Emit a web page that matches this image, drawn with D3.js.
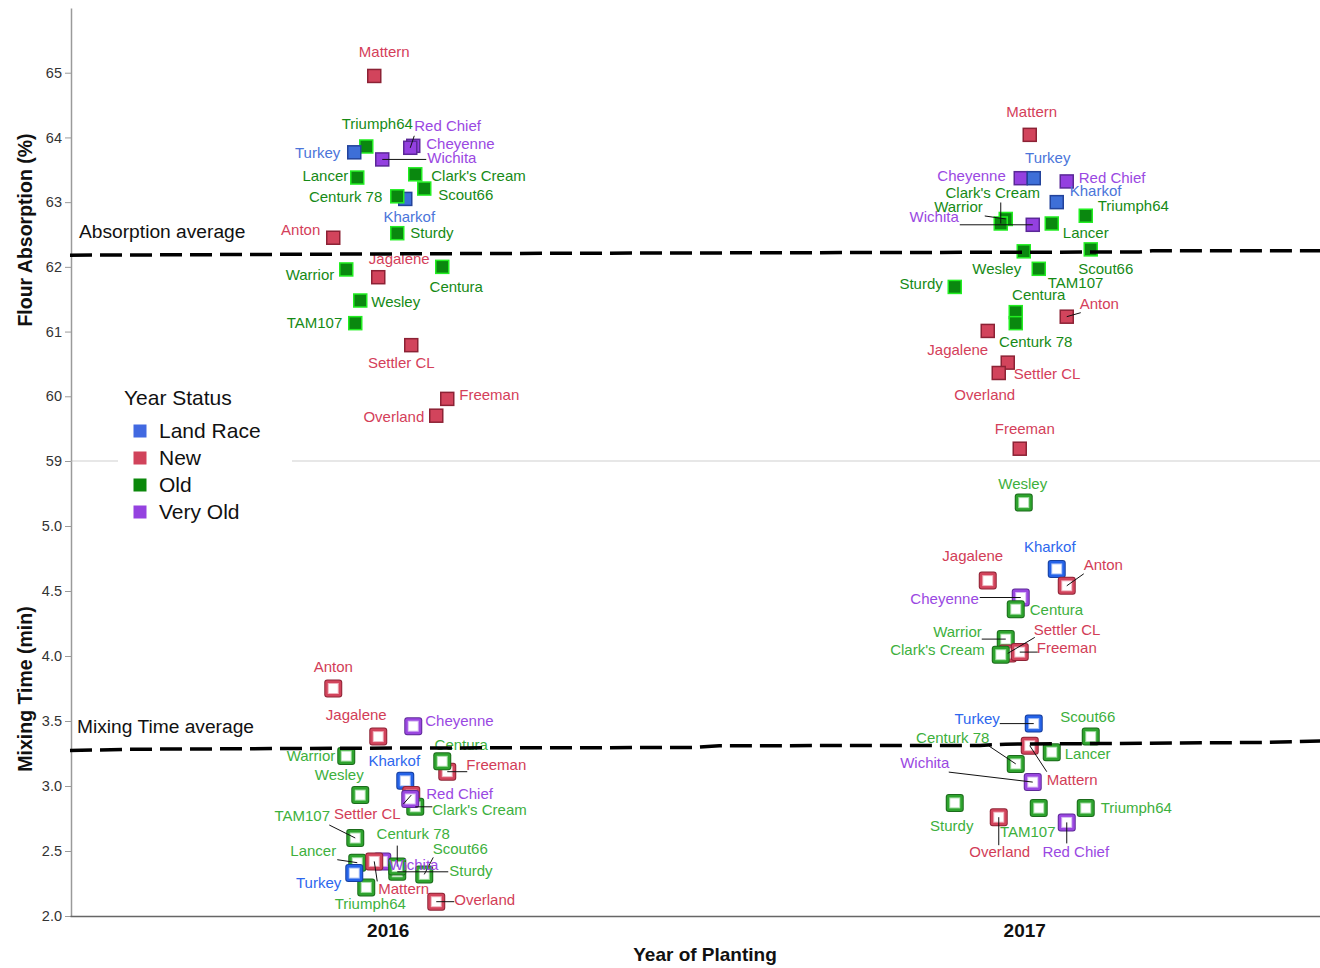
<!DOCTYPE html>
<html>
<head>
<meta charset="utf-8">
<script src="https://cdn.jsdelivr.net/npm/d3@7"></script>
<style>
  body { margin: 0; background: #fff; }
  svg { display: block; font-family: "Liberation Sans", Arial, Helvetica, sans-serif; }
</style>
</head>
<body>
<svg id="chart" width="1320" height="968"></svg>
<script>
// ---- data -------------------------------------------------------------
const years = ["2016", "2017"];
const statuses = ["Land Race", "New", "Old", "Very Old"];

// varieties, listed in drawing order
const varieties = ["Kharkof", "Cheyenne", "Wichita", "Warrior", "Settler CL", "Freeman", "Triumph64",
  "Lancer", "Jagalene", "Sturdy", "Anton", "Centura", "Centurk 78", "Clark's Cream", "Red Chief",
  "Mattern", "Overland", "Scout66", "TAM107", "Wesley", "Turkey"];
const yearStatus = ["Land Race", "Very Old", "Very Old", "Old", "New", "New", "Old",
  "Old", "New", "Old", "New", "Old", "Old", "Old", "Very Old",
  "New", "New", "Old", "Old", "Old", "Land Race"];

// flour absorption (%)
const absorption2016 = [63.05, 63.87, 63.66, 61.96, 60.79, 59.96, 63.86,
  63.38, 61.84, 62.52, 62.45, 62.00, 63.09, 63.43, 63.84,
  64.95, 59.70, 63.21, 61.13, 61.48, 63.77];
const absorption2017 = [63.00, 63.37, 62.65, 62.74, 60.52, 59.19, 62.79,
  62.67, 61.01, 61.69, 61.23, 61.30, 61.13, 62.67, 63.32,
  64.04, 60.36, 62.27, 61.97, 62.24, 63.37];

// mixing time (min)
const mixing2016 = [3.04, 3.46, 2.42, 3.23, 2.93, 3.11, 2.22,
  2.41, 3.38, 2.34, 3.75, 3.19, 2.38, 2.84, 2.90,
  2.42, 2.11, 2.32, 2.60, 2.93, 2.33];
const mixing2017 = [4.67, 4.45, 3.03, 4.13, 4.02, 4.03, 2.83,
  3.26, 4.58, 2.87, 4.54, 4.36, 3.17, 4.01, 2.72,
  3.31, 2.76, 3.38, 2.83, 5.18, 3.48];

// horizontal jitter of each variety inside its year (-1 .. 1)
const jitter2016 = [0.17, 0.25, -0.06, -0.42, 0.23, 0.59, -0.22,
  -0.31, -0.10, 0.09, -0.55, 0.54, 0.09, 0.27, 0.22,
  -0.14, 0.48, 0.36, -0.33, -0.28, -0.34];
const jitter2017 = [0.32, -0.04, 0.08, -0.19, -0.17, -0.05, 0.61,
  0.27, -0.37, -0.70, 0.42, -0.09, -0.09, -0.24, 0.42,
  0.05, -0.26, 0.66, 0.14, -0.01, 0.09];

const absorptionTicks = [59, 60, 61, 62, 63, 64, 65];
const mixingTicks = [2.0, 2.5, 3.0, 3.5, 4.0, 4.5, 5.0];

// running averages: [year position, value]
const absorptionAverage = [[2015.5, 62.18], [2016.25, 62.21], [2017.18, 62.23], [2017.2, 62.25], [2017.5, 62.25]];
const mixingAverage = [[2015.5, 3.273], [2015.6, 3.283], [2016.08, 3.293], [2016.48, 3.296], [2016.52, 3.31],
  [2016.93, 3.312], [2016.97, 3.322], [2017.38, 3.335], [2017.5, 3.35]];

// ---- label placement: [anchor, dx, dy, leaderX, leaderY] ----------------
const labelLayout = {
  A2016: {
    "Anton": ["e", -13, -8], "Centura": ["m", 14, 20], "Centurk 78": ["e", -15, 0],
    "Cheyenne": ["s", 13, -2], "Clark's Cream": ["s", 16, 1], "Freeman": ["s", 12, -4],
    "Jagalene": ["m", 21, -18], "Kharkof": ["m", 4, 18], "Lancer": ["e", -9, -2],
    "Mattern": ["m", 10, -24], "Overland": ["e", -12, 1], "Red Chief": ["s", 4, -22, 4, -12],
    "Scout66": ["s", 14, 6], "Settler CL": ["m", -10, 18], "Sturdy": ["s", 13, 0],
    "TAM107": ["e", -13, 0], "Triumph64": ["m", 11, -23], "Turkey": ["e", -14, 0],
    "Warrior": ["e", -12, 5], "Wesley": ["s", 11, 1], "Wichita": ["s", 45, -2, 44, 0]
  },
  A2017: {
    "Anton": ["s", 13, -13, 14, -4], "Centura": ["m", 23, -17], "Centurk 78": ["m", 20, 19],
    "Cheyenne": ["e", -15, -2], "Clark's Cream": ["m", -8, -31, 0, -21], "Freeman": ["m", 5, -20],
    "Jagalene": ["m", -30, 19], "Kharkof": ["s", 13, -11], "Lancer": ["m", 34, 9],
    "Mattern": ["m", 2, -23], "Overland": ["m", -14, 22], "Red Chief": ["s", 12, -4],
    "Scout66": ["m", 15, 19], "Settler CL": ["s", 6, 11], "Sturdy": ["e", -12, -3],
    "TAM107": ["s", 9, 14], "Triumph64": ["s", 12, -10], "Turkey": ["m", 14, -20],
    "Warrior": ["e", -23, -12, -21, -3], "Wesley": ["m", -27, 17], "Wichita": ["e", -74, -8, -73, 0]
  },
  M2016: {
    "Anton": ["m", 0, -22], "Centura": ["m", 19, -17], "Centurk 78": ["m", 16, -33, 0, -21],
    "Cheyenne": ["s", 12, -5], "Clark's Cream": ["s", 17, 3, 17, 0], "Freeman": ["s", 19, -7, 20, 0],
    "Jagalene": ["m", -22, -22], "Kharkof": ["m", -11, -20], "Lancer": ["m", -44, -12, -20, -3],
    "Mattern": ["s", 4, 27, 3, 20], "Overland": ["s", 18, -2, 18, 0], "Red Chief": ["s", 16, -5],
    "Scout66": ["m", 36, -26, 9, -17], "Settler CL": ["m", -44, 19, -8, 9], "Sturdy": ["s", 52, -1, 51, 0],
    "TAM107": ["m", -53, -22, -26, -13], "Triumph64": ["m", 4, 16], "Turkey": ["e", -13, 10],
    "Warrior": ["e", -11, 0], "Wesley": ["m", -21, -20], "Wichita": ["s", 7, 3]
  },
  M2017: {
    "Anton": ["s", 17, -21, 17, -12], "Centura": ["s", 14, 1], "Centurk 78": ["m", -63, -26, -27, -18],
    "Cheyenne": ["e", -42, 1, -41, 0], "Clark's Cream": ["e", -16, -5], "Freeman": ["s", 17, -4, 18, 0],
    "Jagalene": ["m", -15, -25], "Kharkof": ["m", -7, -22], "Lancer": ["s", 13, 2],
    "Mattern": ["s", 17, 34, 17, 26], "Overland": ["m", 1, 35, 0, 28], "Red Chief": ["m", 9, 29, 0, 21],
    "Scout66": ["m", -3, -20], "Settler CL": ["s", 26, -24, 27, -16], "Sturdy": ["m", -3, 23],
    "TAM107": ["m", -11, 24], "Triumph64": ["s", 15, 0], "Turkey": ["e", -34, -5, -34, 0],
    "Warrior": ["e", -24, -7, -24, 0], "Wesley": ["m", -1, -19], "Wichita": ["m", -108, -19, -84, -10]
  }
};

// ---- colours ---------------------------------------------------------------
const legendColor = d3.scaleOrdinal().domain(statuses).range(["#4169e1", "#d1435b", "#0b880b", "#9542e0"]);
const topFill = d3.scaleOrdinal().domain(statuses).range(["#3e6fd8", "#d2445c", "#0a880f", "#9440e0"]);
const topStroke = d3.scaleOrdinal().domain(statuses).range(["#23439b", "#8c2235", "#22ee22", "#5b2898"]);
const topText = d3.scaleOrdinal().domain(statuses).range(["#4b75da", "#d4405a", "#168a16", "#9a48e2"]);
const ringMain = d3.scaleOrdinal().domain(statuses).range(["#2563e8", "#d2445c", "#2ea32e", "#9a47e0"]);
const ringDark = d3.scaleOrdinal().domain(statuses).range(["#173f9e", "#8e2436", "#1b6b1b", "#5f2a99"]);
const ringLight = d3.scaleOrdinal().domain(statuses).range(["#a9c1f7", "#efb0bb", "#a6dfa6", "#d6b8f3"]);
const bottomText = d3.scaleOrdinal().domain(statuses).range(["#2d67ee", "#d23d57", "#3db03d", "#9a48e2"]);

// ---- scales ----------------------------------------------------------------
const W = 1320, H = 968;
const x = d3.scaleBand().domain(years).range([70, 1343]).padding(0);
const jitter = d3.scaleLinear().domain([-1, 1]).range([-100, 100]);
const xCenter = yr => x(yr) + x.bandwidth() / 2;
const xYear = d3.scaleLinear().domain([2016, 2017]).range([xCenter("2016"), xCenter("2017")]);
const yA = d3.scaleLinear().domain([59, 66]).range([461, 8]);
const yM = d3.scaleLinear().domain([2, 5.5]).range([916, 461]);

const svg = d3.select("#chart");
svg.append("defs").append("clipPath").attr("id", "frame")
  .append("rect").attr("x", 0).attr("y", 0).attr("width", W).attr("height", H);
const root = svg.append("g").attr("clip-path", "url(#frame)");

// divider between the two panels
root.append("line")
  .attr("x1", 71).attr("x2", W).attr("y1", yA(59)).attr("y2", yA(59))
  .attr("stroke", "#cfcfcf").attr("stroke-width", 1);

// ---- axes --------------------------------------------------------------------
function styleAxis(g) {
  g.select(".domain").attr("stroke", "#9a9a9a").attr("stroke-width", 1.5);
  g.selectAll(".tick line").attr("stroke", "#9a9a9a");
  g.selectAll(".tick text").attr("fill", "#333").attr("font-size", 14.5)
    .attr("font-family", "'Liberation Sans', Arial, sans-serif");
}
root.append("g").attr("transform", "translate(71,0)")
  .call(d3.axisLeft(yA).tickValues(absorptionTicks).tickFormat(d3.format("d")).tickSize(6).tickSizeOuter(0).tickPadding(3))
  .call(styleAxis);
root.append("g").attr("transform", "translate(71,0)")
  .call(d3.axisLeft(yM).tickValues(mixingTicks).tickFormat(d3.format(".1f")).tickSize(6).tickSizeOuter(0).tickPadding(3))
  .call(styleAxis);

const xAxis = root.append("g").attr("transform", "translate(0,916)")
  .call(d3.axisBottom(x).tickSize(0).tickPadding(8));
xAxis.select(".domain").attr("stroke", "#666").attr("stroke-width", 1.5);
xAxis.selectAll(".tick text").attr("font-size", 19).attr("font-weight", "bold").attr("fill", "#111")
  .attr("font-family", "'Liberation Sans', Arial, sans-serif");

// axis titles
root.append("text").attr("transform", `translate(32,230) rotate(-90)`)
  .attr("text-anchor", "middle").attr("font-size", 19.5).attr("font-weight", "bold").attr("fill", "#111")
  .text("Flour Absorption (%)");
root.append("text").attr("transform", `translate(32,689) rotate(-90)`)
  .attr("text-anchor", "middle").attr("font-size", 19.5).attr("font-weight", "bold").attr("fill", "#111")
  .text("Mixing Time (min)");
root.append("text").attr("x", 705).attr("y", 961)
  .attr("text-anchor", "middle").attr("font-size", 19).attr("font-weight", "bold").attr("fill", "#111")
  .text("Year of Planting");

// ---- points ------------------------------------------------------------------
function panelRows(key, valuesByYear) {
  const rows = [];
  years.forEach(yr => {
    const vals = valuesByYear[yr];
    const jit = yr === "2016" ? jitter2016 : jitter2017;
    varieties.forEach((v, i) => rows.push({
      variety: v, status: yearStatus[i], year: yr, value: vals[i], jitter: jit[i],
      layout: labelLayout[key + yr][v]
    }));
  });
  return rows;
}
const absorptionRows = panelRows("A", { "2016": absorption2016, "2017": absorption2017 });
const mixingRows = panelRows("M", { "2016": mixing2016, "2017": mixing2017 });

const px = d => xCenter(d.year) + jitter(d.jitter);

function drawLeaders(g, rows, y) {
  g.selectAll("line").data(rows.filter(d => d.layout.length > 3)).join("line")
    .attr("x1", d => px(d)).attr("y1", d => y(d.value))
    .attr("x2", d => px(d) + d.layout[3]).attr("y2", d => y(d.value) + d.layout[4])
    .attr("stroke", "#111").attr("stroke-width", 1);
}
function drawLabels(g, rows, y, color) {
  const anchors = { s: "start", m: "middle", e: "end" };
  g.selectAll("text").data(rows).join("text")
    .attr("x", d => px(d) + d.layout[1])
    .attr("y", d => y(d.value) + d.layout[2])
    .attr("dy", "0.35em")
    .attr("text-anchor", d => anchors[d.layout[0]])
    .attr("font-size", 15)
    .attr("fill", d => color(d.status))
    .text(d => d.variety);
}

// flour absorption: filled squares
const gA = root.append("g");
gA.append("g").selectAll("rect").data(absorptionRows).join("rect")
  .attr("x", d => px(d) - 6.5).attr("y", d => yA(d.value) - 6.5)
  .attr("width", 13).attr("height", 13)
  .attr("fill", d => topFill(d.status))
  .attr("stroke", d => topStroke(d.status)).attr("stroke-width", 1.5);
drawLeaders(gA.append("g"), absorptionRows, yA);
drawLabels(gA.append("g"), absorptionRows, yA, topText);

// mixing time: open squares
const gM = root.append("g");
const ring = gM.append("g").selectAll("g").data(mixingRows).join("g")
  .attr("transform", d => `translate(${px(d)},${yM(d.value)})`);
ring.append("rect").attr("x", -9).attr("y", -9).attr("width", 18).attr("height", 18).attr("rx", 3)
  .attr("fill", d => ringDark(d.status));
ring.append("rect").attr("x", -8).attr("y", -8).attr("width", 16).attr("height", 16).attr("rx", 2)
  .attr("fill", d => ringMain(d.status));
ring.append("rect").attr("x", -5.5).attr("y", -5.5).attr("width", 11).attr("height", 11)
  .attr("fill", d => ringLight(d.status));
ring.append("rect").attr("x", -4.5).attr("y", -4.5).attr("width", 9).attr("height", 9)
  .attr("fill", "#fff");
drawLeaders(gM.append("g"), mixingRows, yM);
drawLabels(gM.append("g"), mixingRows, yM, bottomText);

// ---- average lines -------------------------------------------------------------
const avgLine = y => d3.line().x(d => xYear(d[0])).y(d => y(d[1]));
root.append("path").datum(absorptionAverage).attr("d", avgLine(yA))
  .attr("fill", "none").attr("stroke", "#000").attr("stroke-width", 3.5).attr("stroke-dasharray", "22,8");
root.append("path").datum(mixingAverage).attr("d", avgLine(yM))
  .attr("fill", "none").attr("stroke", "#000").attr("stroke-width", 3.5).attr("stroke-dasharray", "22,8");
root.append("text").attr("x", 79).attr("y", yA(absorptionAverage[0][1]) - 24).attr("dy", "0.35em")
  .attr("font-size", 19.2).attr("fill", "#111").text("Absorption average");
root.append("text").attr("x", 77).attr("y", yM(mixingAverage[0][1]) - 24).attr("dy", "0.35em")
  .attr("font-size", 19.2).attr("fill", "#111").text("Mixing Time average");

// ---- legend ---------------------------------------------------------------------
const legend = root.append("g").attr("transform", "translate(118,380)");
legend.append("rect").attr("x", 0).attr("y", 0).attr("width", 174).attr("height", 150).attr("fill", "#fff");
legend.append("text").attr("x", 6).attr("y", 18).attr("dy", "0.35em")
  .attr("font-size", 21).attr("fill", "#111").text("Year Status");
const item = legend.selectAll("g.item").data(statuses).join("g").attr("class", "item")
  .attr("transform", (d, i) => `translate(0,${51 + i * 27})`);
item.append("rect").attr("x", 15.5).attr("y", -6.5).attr("width", 13).attr("height", 13)
  .attr("fill", d => legendColor(d));
item.append("text").attr("x", 41).attr("y", 0).attr("dy", "0.35em")
  .attr("font-size", 21).attr("fill", "#111").text(d => d);
</script>
</body>
</html>
